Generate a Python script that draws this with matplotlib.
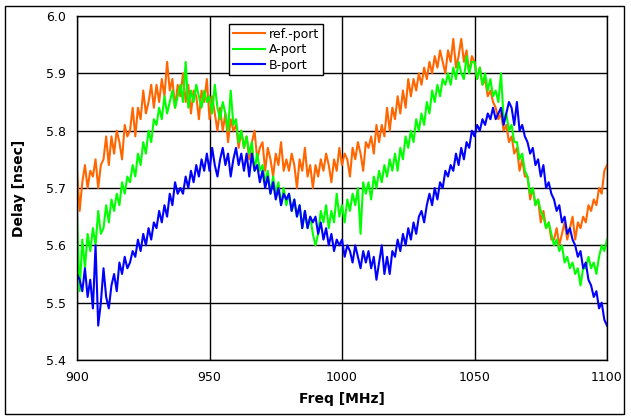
import numpy as np
import matplotlib
matplotlib.use("Agg")
import matplotlib.pyplot as plt
from matplotlib.patches import Rectangle

freq = np.arange(900, 1101, 1)

ref_port = [
    5.73, 5.66, 5.71, 5.74, 5.70, 5.73, 5.72, 5.75, 5.70, 5.74,
    5.75, 5.79, 5.74, 5.79, 5.76, 5.80, 5.78, 5.75, 5.81, 5.79,
    5.80, 5.84, 5.79, 5.84, 5.82, 5.87, 5.83, 5.85, 5.88, 5.84,
    5.88, 5.85, 5.89, 5.86, 5.92, 5.87, 5.89, 5.84, 5.88, 5.86,
    5.90, 5.85, 5.88, 5.83, 5.87, 5.86, 5.82, 5.87, 5.85, 5.89,
    5.82, 5.86, 5.83, 5.80, 5.84, 5.80, 5.83, 5.78, 5.82, 5.80,
    5.81, 5.77, 5.80, 5.77, 5.79, 5.75, 5.78, 5.80, 5.75, 5.77,
    5.78, 5.73, 5.77, 5.75, 5.72, 5.76, 5.74, 5.78, 5.73, 5.75,
    5.73, 5.76, 5.74, 5.70, 5.75, 5.73, 5.77, 5.72, 5.74, 5.70,
    5.74, 5.72, 5.75, 5.73, 5.76, 5.74, 5.71, 5.75, 5.73, 5.77,
    5.74, 5.76, 5.75, 5.72, 5.77, 5.75, 5.78, 5.76, 5.73, 5.78,
    5.77, 5.79, 5.76, 5.81, 5.78, 5.81, 5.79, 5.84, 5.80, 5.84,
    5.82, 5.86, 5.83, 5.87, 5.84, 5.89, 5.86, 5.89, 5.87, 5.90,
    5.88, 5.91, 5.89, 5.92, 5.90, 5.93, 5.91, 5.94, 5.92, 5.90,
    5.94, 5.92, 5.96, 5.91, 5.93, 5.96, 5.92, 5.94, 5.90, 5.93,
    5.92, 5.89, 5.91, 5.88, 5.89, 5.86, 5.87, 5.85, 5.84, 5.82,
    5.83, 5.80, 5.81, 5.78, 5.79, 5.76, 5.77, 5.73, 5.75, 5.72,
    5.72, 5.68, 5.70, 5.67, 5.68, 5.64, 5.66, 5.63, 5.64, 5.61,
    5.61, 5.63, 5.60, 5.62, 5.64, 5.61, 5.63, 5.65, 5.61, 5.64,
    5.63, 5.65, 5.64, 5.67, 5.66, 5.68, 5.67, 5.70, 5.69, 5.73,
    5.74,
]

a_port = [
    5.65, 5.52, 5.61, 5.56, 5.62, 5.59, 5.63, 5.60, 5.66, 5.62,
    5.63, 5.67, 5.64, 5.68, 5.66, 5.69, 5.67, 5.71, 5.69, 5.72,
    5.71, 5.74, 5.72, 5.76, 5.74, 5.78, 5.76, 5.80, 5.78, 5.82,
    5.81, 5.84, 5.82, 5.86, 5.83, 5.85, 5.87, 5.84, 5.86, 5.88,
    5.85, 5.92, 5.84, 5.87, 5.85, 5.88, 5.86, 5.84, 5.87, 5.85,
    5.86, 5.83, 5.88, 5.84, 5.82, 5.85, 5.83, 5.80, 5.87, 5.81,
    5.82, 5.78, 5.80, 5.77, 5.79, 5.76, 5.78, 5.73, 5.76, 5.73,
    5.74, 5.71, 5.73, 5.69, 5.72, 5.69, 5.71, 5.67, 5.70, 5.67,
    5.69, 5.66, 5.68, 5.65, 5.67, 5.63, 5.66, 5.63, 5.65, 5.62,
    5.60, 5.62, 5.66, 5.64, 5.67, 5.63, 5.66, 5.64, 5.69, 5.65,
    5.67, 5.64, 5.68, 5.66, 5.69, 5.67, 5.70, 5.62, 5.71, 5.69,
    5.71, 5.68, 5.72, 5.70, 5.73, 5.71, 5.74, 5.72, 5.75, 5.73,
    5.76, 5.73, 5.77, 5.75, 5.79, 5.77, 5.80, 5.78, 5.82, 5.80,
    5.83, 5.81, 5.85, 5.83, 5.87, 5.85, 5.88, 5.86, 5.89, 5.88,
    5.90, 5.88, 5.91, 5.89, 5.92, 5.90, 5.89, 5.93, 5.90, 5.92,
    5.92, 5.89, 5.91, 5.88, 5.90, 5.87, 5.89, 5.86, 5.87, 5.85,
    5.90, 5.82, 5.83, 5.80, 5.81, 5.78, 5.78, 5.75, 5.76, 5.73,
    5.72, 5.69, 5.70, 5.67, 5.68, 5.66, 5.65, 5.63, 5.64, 5.62,
    5.60, 5.61, 5.59, 5.60, 5.57, 5.58, 5.56, 5.57, 5.55, 5.56,
    5.53, 5.56, 5.56, 5.58, 5.56, 5.57, 5.55, 5.58, 5.60, 5.59,
    5.61,
]

b_port = [
    5.55, 5.54, 5.52, 5.56, 5.51, 5.54, 5.49, 5.60, 5.46, 5.50,
    5.56, 5.51, 5.49, 5.53, 5.55, 5.52, 5.57, 5.55, 5.58, 5.56,
    5.57, 5.59, 5.58, 5.61, 5.59, 5.62, 5.60, 5.63, 5.61, 5.64,
    5.63, 5.66, 5.64, 5.67, 5.65, 5.69, 5.67, 5.71, 5.69, 5.70,
    5.69, 5.72, 5.70, 5.73, 5.71, 5.74, 5.72, 5.75, 5.73, 5.76,
    5.73, 5.77, 5.74, 5.72, 5.75, 5.77, 5.74, 5.76, 5.72, 5.75,
    5.77, 5.74, 5.76, 5.73, 5.76, 5.72, 5.76, 5.73, 5.74, 5.71,
    5.73, 5.70, 5.72, 5.69, 5.71, 5.68, 5.70, 5.67, 5.69, 5.68,
    5.69, 5.66, 5.68, 5.65, 5.67, 5.63, 5.66, 5.63, 5.65, 5.64,
    5.65, 5.62, 5.64, 5.61, 5.63, 5.60, 5.62, 5.59, 5.61, 5.60,
    5.61, 5.58, 5.60, 5.59, 5.57, 5.60, 5.58, 5.56, 5.59, 5.57,
    5.59, 5.56, 5.58, 5.54, 5.57, 5.60, 5.55, 5.58, 5.55, 5.59,
    5.58, 5.61, 5.59, 5.62, 5.60, 5.63, 5.61, 5.64, 5.62, 5.65,
    5.66, 5.64, 5.67, 5.69, 5.67, 5.70, 5.68, 5.71, 5.70, 5.73,
    5.72, 5.74, 5.73, 5.76, 5.74, 5.77, 5.75, 5.78, 5.77, 5.80,
    5.79, 5.81, 5.80, 5.82, 5.81, 5.83, 5.82, 5.84, 5.82, 5.83,
    5.84, 5.81, 5.83, 5.85, 5.84, 5.81, 5.85, 5.80, 5.81, 5.79,
    5.78, 5.76, 5.77, 5.74, 5.75, 5.72, 5.74, 5.70, 5.71, 5.69,
    5.68, 5.66, 5.67, 5.64, 5.65, 5.62, 5.63, 5.61, 5.60, 5.58,
    5.59, 5.56, 5.57, 5.54, 5.53, 5.51, 5.52, 5.49, 5.50, 5.47,
    5.46,
]

x_ticks = [900, 950, 1000, 1050, 1100]
y_ticks = [5.4, 5.5, 5.6, 5.7, 5.8, 5.9, 6.0]

fig = plt.figure(figsize=(6.31, 4.20), dpi=100)
ax = fig.add_axes([77 / 631, 60 / 420, 530 / 631, 344 / 420])

# outer chart border
fig.patches.append(Rectangle((5 / 631, 6 / 420), 619 / 631, 408 / 420,
                             transform=fig.transFigure, fill=False,
                             edgecolor='black', linewidth=1))

ax.plot(freq, ref_port, color='#FF6600', lw=1.5, label='ref.-port')
ax.plot(freq, a_port, color='#00FF00', lw=1.5, label='A-port')
ax.plot(freq, b_port, color='#0000FF', lw=1.5, label='B-port')

ax.set_xlim(900, 1100)
ax.set_ylim(5.4, 6.0)
ax.set_xticks(x_ticks)
ax.set_yticks(y_ticks)
ax.set_yticklabels(['%.1f' % v for v in y_ticks])
ax.tick_params(length=0, labelsize=9, pad=8)
ax.grid(True, color='black', linewidth=1)
ax.set_axisbelow(True)
for s in ax.spines.values():
    s.set_linewidth(1)

ax.set_xlabel('Freq [MHz]', fontsize=10, fontweight='bold', labelpad=6)
ax.set_ylabel('Delay [nsec]', fontsize=10, fontweight='bold', labelpad=14)

leg = ax.legend(loc='upper left', bbox_to_anchor=(0.275, 0.995), fontsize=9,
                fancybox=False, framealpha=1, edgecolor='black',
                handlelength=2.6, borderpad=0.3, labelspacing=0.2,
                handletextpad=0.3)
leg.get_frame().set_linewidth(1)

fig.savefig('out.png', dpi=100)
